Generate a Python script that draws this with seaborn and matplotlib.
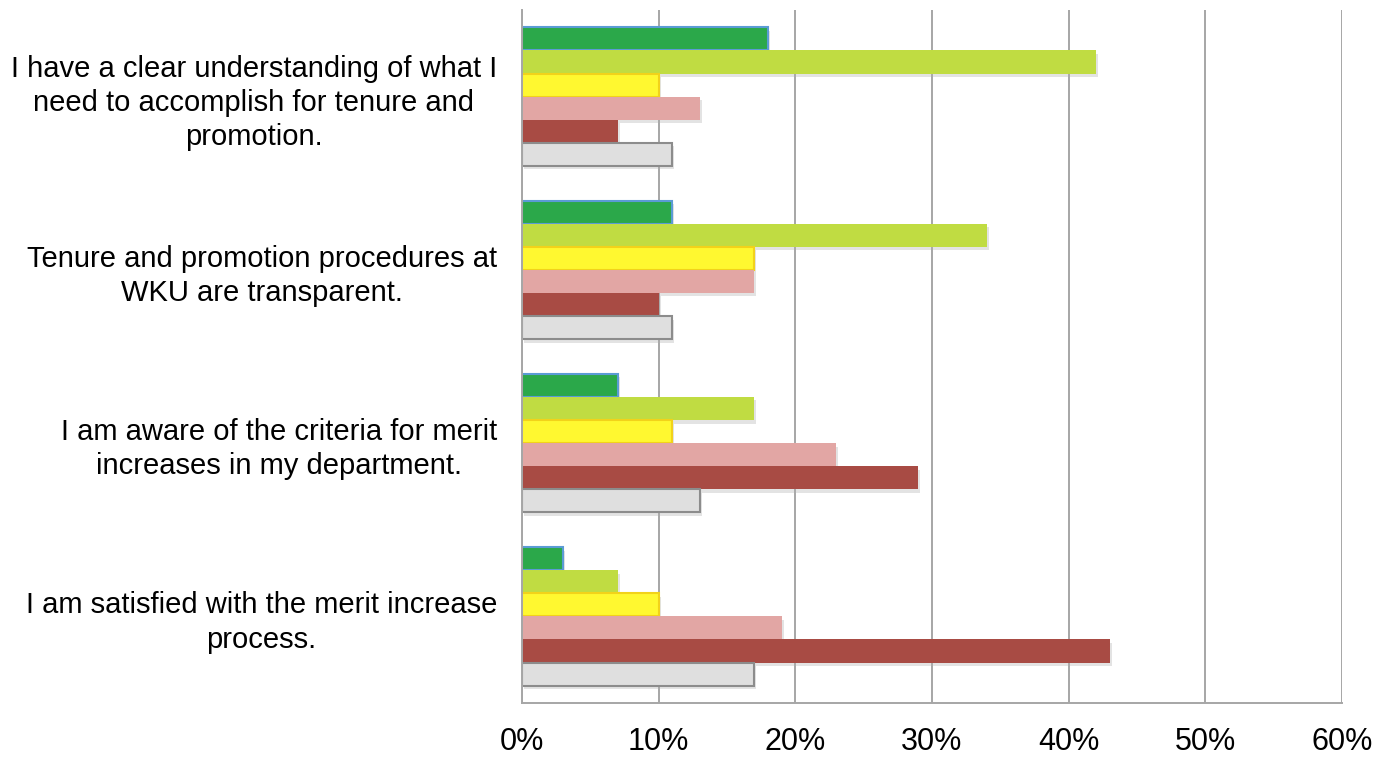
import matplotlib
matplotlib.use("Agg")
import matplotlib.pyplot as plt
import matplotlib.patheffects as pe
import pandas as pd
import seaborn as sns
from matplotlib.ticker import FuncFormatter

statements = [
    "I have a clear understanding of what I\nneed to accomplish for tenure and\npromotion.",
    "Tenure and promotion procedures at\nWKU are transparent.",
    "I am aware of the criteria for merit\nincreases in my department.",
    "I am satisfied with the merit increase\nprocess.",
]
responses = ["Strongly Agree", "Agree", "Somewhat Agree",
             "Somewhat Disagree", "Strongly Disagree", "Not Applicable"]

strongly_agree = [18, 11, 7, 3]
agree = [42, 34, 17, 7]
somewhat_agree = [10, 17, 11, 10]
somewhat_disagree = [13, 17, 23, 19]
strongly_disagree = [7, 10, 29, 43]
not_applicable = [11, 11, 13, 17]

x_ticks = [0, 10, 20, 30, 40, 50, 60]

fills = ["#2BA84A", "#C0DC42", "#FFF830", "#E2A6A4", "#A84B44", "#DFDFDF"]
edges = ["#5B9BD5", None, "#F2D21A", None, None, "#8C8C8C"]

series = [strongly_agree, agree, somewhat_agree,
          somewhat_disagree, strongly_disagree, not_applicable]
rows = []
for resp, vals in zip(responses, series):
    for stmt, v in zip(statements, vals):
        rows.append({"statement": stmt, "response": resp, "pct": v})
df = pd.DataFrame(rows)

sns.set_theme(style="white")
plt.rcParams["font.family"] = ["Liberation Sans", "DejaVu Sans"]

fig = plt.figure(figsize=(13.89, 7.57), dpi=100)
ax = fig.add_axes([0.3758, 0.0713, 0.5904, 0.9155])

sns.barplot(data=df, x="pct", y="statement", hue="response",
            order=statements, hue_order=responses,
            palette=dict(zip(responses, fills)), orient="h",
            width=0.8, gap=0, legend=False, ax=ax, saturation=1)

shadow = [pe.SimplePatchShadow(offset=(1.5, -2.5), shadow_rgbFace="#b0b0b0", alpha=0.35),
          pe.Normal()]
for cont, ec in zip(ax.containers, edges):
    for bar in cont:
        if ec is not None:
            bar.set_edgecolor(ec)
            bar.set_linewidth(1.5)
        else:
            bar.set_linewidth(0)
        bar.set_path_effects(shadow)

ax.set_xlim(0, 60)
ax.set_xticks(x_ticks)
ax.xaxis.set_major_formatter(FuncFormatter(lambda v, _: f"{v:.0f}%"))
ax.grid(axis="x", color="#A6A6A6", linewidth=1.4)
ax.grid(axis="y", visible=False)
ax.set_axisbelow(True)
for side in ("top", "right"):
    ax.spines[side].set_visible(False)
for side in ("left", "bottom"):
    ax.spines[side].set_color("#A6A6A6")
    ax.spines[side].set_linewidth(1.4)

ax.set_xlabel("")
ax.set_ylabel("")
ax.tick_params(axis="x", length=0, pad=17, labelsize=22, labelcolor="black")
ax.tick_params(axis="y", length=0, pad=18, labelsize=21, labelcolor="black")
for t in ax.get_yticklabels():
    t.set_multialignment("center")
    t.set_linespacing(1.28)

fig.savefig("out.png", dpi=100)
